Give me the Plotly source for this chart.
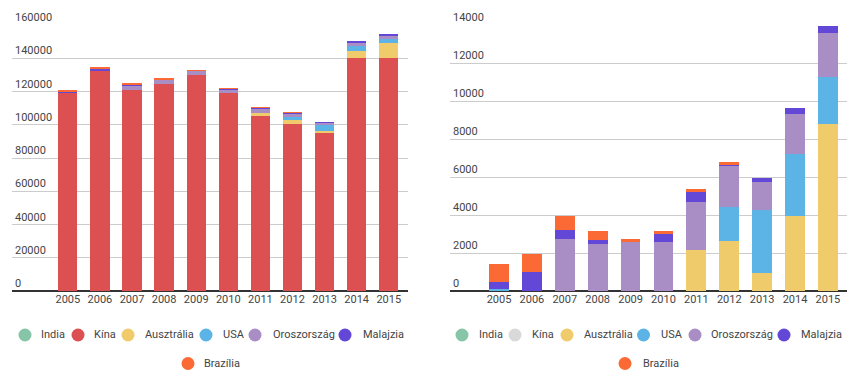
import plotly.graph_objects as go

years = ["2005", "2006", "2007", "2008", "2009", "2010", "2011", "2012", "2013", "2014", "2015"]
names = ["India", "Kína", "Ausztrália", "USA", "Oroszország", "Malajzia", "Brazília"]
colors = ["#86c5a8", "#dc5052", "#f0cb6b", "#5bb4e5", "#a98dc5", "#6347d6", "#fb6a35"]
hidden_color = "#d9d9d9"

india = [0, 0, 0, 0, 0, 0, 0, 0, 0, 0, 0]
kina = [119400, 132800, 121000, 124700, 129800, 118900, 105100, 100500, 95350, 140200, 140250]
ausztralia = [0, 0, 0, 0, 0, 0, 2172, 2610, 963, 3960, 8784]
usa = [130, 0, 0, 0, 0, 0, 0, 1787, 3313, 3262, 2472]
oroszorszag = [0, 0, 2735, 2488, 2557, 2557, 2525, 2157, 1457, 2104, 2315]
malajzia = [322, 1000, 455, 175, 0, 420, 526, 126, 211, 300, 384]
brazilia = [984, 925, 770, 509, 178, 158, 142, 105, 0, 0, 0]

left_ticks = [0, 20000, 40000, 60000, 80000, 100000, 120000, 140000, 160000]
right_ticks = [0, 2000, 4000, 6000, 8000, 10000, 12000, 14000]

series = [india, kina, ausztralia, usa, oroszorszag, malajzia, brazilia]

W, H = 852, 383
TOP, BOTTOM = 25, 92
PLOT_BOTTOM_PX = H - BOTTOM
PLOT_H = H - TOP - BOTTOM

fig = go.Figure()

# left chart: all series stacked
for n, c, v in zip(names, colors, series):
    fig.add_trace(go.Bar(x=years, y=v, name=n, marker=dict(color=c, line=dict(width=0)),
                         xaxis="x", yaxis="y"))
# right chart: same data, China switched off
for n, c, v in zip(names, colors, series):
    fig.add_trace(go.Bar(x=years, y=v, name=n, marker=dict(color=c, line=dict(width=0)),
                         xaxis="x2", yaxis="y2",
                         visible=("legendonly" if n == "Kína" else True)))

tickfont = dict(family="Roboto", size=11, color="#444444")
legfont = dict(family="Roboto", size=11, color="#444444")

yaxis_common = dict(
    ticklabelposition="inside top", ticklabeloverflow="allow", tickformat="d",
    showgrid=True, gridcolor="#cccccc", gridwidth=1, zeroline=True,
    zerolinecolor="#333333", zerolinewidth=2, showline=False, ticks="",
    tickfont=tickfont, fixedrange=True,
)
xaxis_common = dict(type="category", showgrid=False, showline=False, ticks="",
                    tickfont=tickfont, fixedrange=True, tickangle=0)

# ---- legends drawn as circle + label (layout positions in pixels) ----
def px_to_paper_x(px):
    return px / W

def px_to_paper_y(py):
    return (PLOT_BOTTOM_PX - py) / PLOT_H

row1_y, row2_y = 335, 363.5
left_circle_x = [25, 78, 128, 206, 255, 345, 188]
left_text_x = [39, 91.5, 143, 220.5, 270.5, 360.5, 202]
right_circle_x = [462, 515, 567, 643.5, 695, 784, 625]
right_text_x = [477, 530, 582, 658.5, 708.5, 798.5, 641]

shapes = []
annotations = []
r = 6.5
for side, cxs, txs in (("left", left_circle_x, left_text_x), ("right", right_circle_x, right_text_x)):
    for i, (n, c) in enumerate(zip(names, colors)):
        row_y = row2_y if n == "Brazília" else row1_y
        col = hidden_color if (side == "right" and n == "Kína") else c
        shapes.append(dict(
            type="circle", xref="paper", yref="paper",
            xsizemode="pixel", ysizemode="pixel",
            xanchor=px_to_paper_x(cxs[i]), yanchor=px_to_paper_y(row_y),
            x0=-r, x1=r, y0=-r, y1=r,
            fillcolor=col, line=dict(width=0),
        ))
        annotations.append(dict(
            text=n, xref="paper", yref="paper",
            x=px_to_paper_x(txs[i]), y=px_to_paper_y(row_y),
            xanchor="left", yanchor="middle", showarrow=False, font=legfont,
        ))

fig.update_layout(
    width=W, height=H,
    margin=dict(l=0, r=0, t=TOP, b=BOTTOM),
    paper_bgcolor="white", plot_bgcolor="white",
    barmode="stack", bargap=0.4, showlegend=False,
    font=dict(family="Roboto", size=11, color="#444444"),
    xaxis=dict(domain=[12 / W, 408 / W], range=[-1.74, 10.6], anchor="y", **xaxis_common),
    yaxis=dict(range=[0, 160000], tickvals=left_ticks, anchor="x", **yaxis_common),
    xaxis2=dict(domain=[450 / W, 847 / W], range=[-1.49, 10.58], anchor="y2", **xaxis_common),
    yaxis2=dict(range=[0, 14000], tickvals=right_ticks, anchor="x2", **yaxis_common),
    shapes=shapes,
    annotations=annotations,
)

fig.write_html(
    "out.html",
    config={"displayModeBar": False},
    post_script="document.body.style.margin='0';document.body.style.overflow='hidden';",
)
